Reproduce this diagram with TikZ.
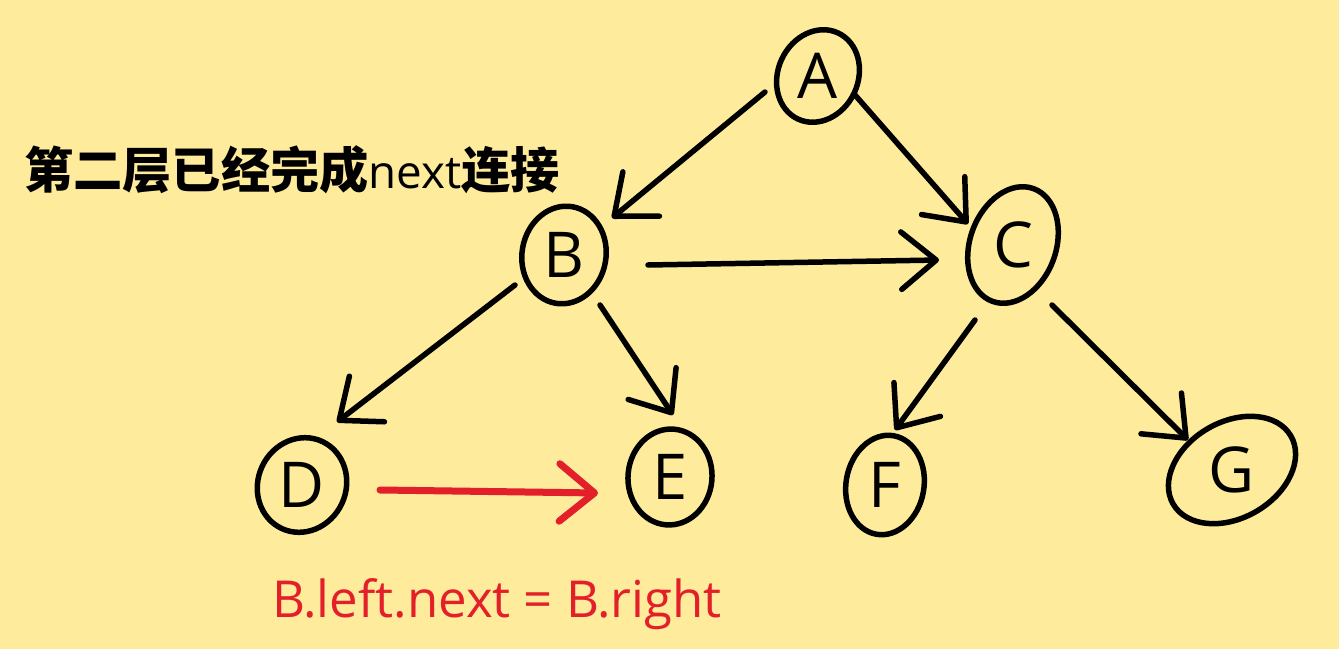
\documentclass[tikz,border=0pt]{standalone}
\usepackage{fontspec}
\setmainfont{Open Sans}
\newfontfamily\cjk{Noto Sans CJK SC}
\usetikzlibrary{arrows.meta,shapes.geometric}
\definecolor{bg}{HTML}{FEEB9C}
\definecolor{inkred}{HTML}{E3202A}
\begin{document}
\begin{tikzpicture}[x=0.02cm,y=-0.02cm,
  vtx/.style={draw, ellipse, line width=0.11cm, inner sep=0pt,
    font=\fontsize{36}{38}\selectfont},
  edge/.style={line width=0.11cm, line cap=round,
    -{Straight Barb[length=0.7cm,width=1.15cm,round]}},
  rededge/.style={edge, draw=inkred, line width=0.14cm}]
\fill[bg] (0,0) rectangle (1339,649);
\useasboundingbox (0,0) rectangle (1339,649);

\node[vtx, minimum width=1.6cm, minimum height=1.9cm, rotate=-25] (A) at (818,76) {\rotatebox{25}{A}};
\node[vtx, minimum width=1.68cm, minimum height=1.96cm, rotate=-10] (B) at (564,255) {\rotatebox{10}{B}};
\node[vtx, minimum width=1.72cm, minimum height=2.4cm, rotate=-20] (C) at (1013,245) {\rotatebox{20}{C}};
\node[vtx, minimum width=1.76cm, minimum height=1.92cm, rotate=-25] (D) at (302,485) {\rotatebox{25}{D}};
\node[vtx, minimum width=1.68cm, minimum height=1.92cm, rotate=-5] (E) at (670,477) {\rotatebox{5}{E}};
\node[vtx, minimum width=1.56cm, minimum height=2.0cm, rotate=-10] (F) at (885,485) {\rotatebox{10}{F}};
\node[vtx, minimum width=2.72cm, minimum height=1.92cm, rotate=30] (G) at (1232,470) {\rotatebox{-30}{G}};

\node[anchor=west, inner sep=0pt, font=\cjk\bfseries\fontsize{28}{30}\selectfont] (title) at (24,170)
  {第二层已经完成{\normalfont\fontsize{26}{28}\selectfont next}连接};
\node[anchor=west, inner sep=0pt, text=inkred, font=\fontsize{29}{31}\selectfont] (lbl) at (272,604)
  {B.left.next = B.right};

\draw[edge] ([shift={(-53,16)}]A.center) -- ([shift={(48,-37)}]B.center);
\draw[edge] ([shift={(37,19)}]A.center) -- ([shift={(-45,-21)}]C.center);
\draw[edge] ([shift={(84,10)}]B.center) -- ([shift={(-74,15)}]C.center);
\draw[edge] ([shift={(-49,30)}]B.center) -- ([shift={(35,-63)}]D.center);
\draw[edge] ([shift={(36,50)}]B.center) -- ([shift={(3,-62)}]E.center);
\draw[edge] ([shift={(-38,75)}]C.center) -- ([shift={(10,-55)}]F.center);
\draw[edge] ([shift={(39,60)}]C.center) -- ([shift={(-44,-30)}]G.center);
\draw[rededge] ([shift={(78,5)}]D.center) -- ([shift={(-72,16)}]E.center);
\end{tikzpicture}
\end{document}
